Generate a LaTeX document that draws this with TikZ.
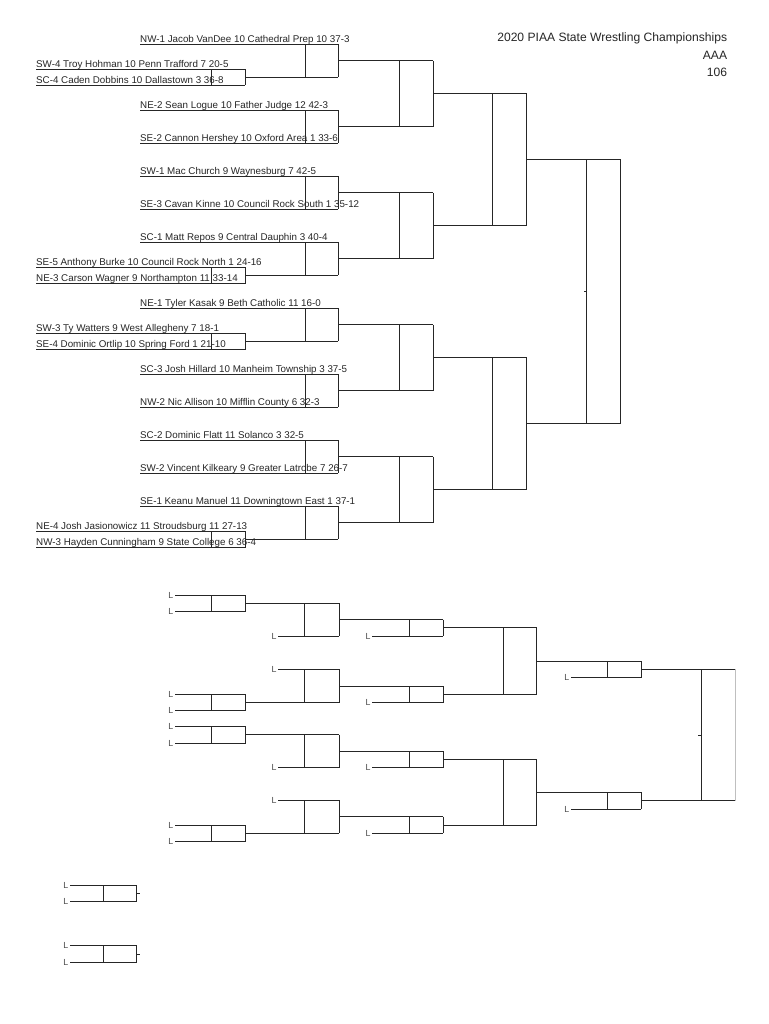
\documentclass[tikz,border=0pt]{standalone}
\usepackage{fontspec}
\setmainfont{Liberation Sans}
\newcommand\mainentry[3]{%
  \pgfmathsetmacro\myy{44.3+33*#1}%
  \node[ent] (#2) at (140,\myy-2) {#3};%
  \draw[ln] (140,\myy) -- (338,\myy);}
\newcommand\prelimentry[5]{%
  \pgfmathsetmacro\myy{44.3+33*#1}%
  \draw[ln] (245,\myy) -- (338,\myy);%
  \draw[ln] (36,\myy-8.2) -- (245,\myy-8.2) (36,\myy+8.2) -- (245,\myy+8.2)
            (211,\myy-8.2) -- (211,\myy+8.2) (245,\myy-8.2) -- (245,\myy+8.2);%
  \node[ent] (#2) at (36,\myy-10.2) {#3};%
  \node[ent] (#4) at (36,\myy+6.2) {#5};}
% consolation group, first box on top
\newcommand\cgrpA[2]{%
  \pgfmathsetmacro\cb{#1}%
  \draw[ln] (175,\cb) -- (245.7,\cb) (175,\cb+16.5) -- (245.7,\cb+16.5)
            (211,\cb) -- (211,\cb+16.5) (245.7,\cb) -- (245.7,\cb+16.5);%
  \node[lbl] (#2a) at (173.5,\cb+3) {L};%
  \node[lbl] (#2b) at (173.5,\cb+19.5) {L};%
  \draw[ln] (245.7,\cb+8.25) -- (339,\cb+8.25) (278.3,\cb+41) -- (339,\cb+41)
            (304.3,\cb+8.25) -- (304.3,\cb+41) (339,\cb+8.25) -- (339,\cb+41);%
  \node[lbl] (#2c) at (276.8,\cb+44) {L};%
  \draw[ln] (339,\cb+24.6) -- (443.3,\cb+24.6) (372.3,\cb+41) -- (443.3,\cb+41)
            (409,\cb+24.6) -- (409,\cb+41) (443.3,\cb+24.6) -- (443.3,\cb+41);%
  \node[lbl] (#2d) at (370.8,\cb+44) {L};%
  \draw[ln] (443.3,\cb+32.8) -- (536.7,\cb+32.8);}
% consolation group, first box at bottom
\newcommand\cgrpB[2]{%
  \pgfmathsetmacro\cb{#1}%
  \draw[ln] (278.3,\cb) -- (339,\cb);%
  \node[lbl] (#2c) at (276.8,\cb+3) {L};%
  \draw[ln] (175,\cb+25.1) -- (245.7,\cb+25.1) (175,\cb+41.6) -- (245.7,\cb+41.6)
            (211,\cb+25.1) -- (211,\cb+41.6) (245.7,\cb+25.1) -- (245.7,\cb+41.6);%
  \node[lbl] (#2a) at (173.5,\cb+28.1) {L};%
  \node[lbl] (#2b) at (173.5,\cb+44.6) {L};%
  \draw[ln] (245.7,\cb+33.4) -- (339,\cb+33.4)
            (304.3,\cb) -- (304.3,\cb+33.4) (339,\cb) -- (339,\cb+33.4);%
  \draw[ln] (339,\cb+16.7) -- (443.3,\cb+16.7) (372.3,\cb+33.4) -- (443.3,\cb+33.4)
            (409,\cb+16.7) -- (409,\cb+33.4) (443.3,\cb+16.7) -- (443.3,\cb+33.4);%
  \node[lbl] (#2d) at (370.8,\cb+36.4) {L};%
  \draw[ln] (443.3,\cb+25.05) -- (536.7,\cb+25.05);}
\begin{document}
\begin{tikzpicture}[x=1pt,y=-1pt,
  ln/.style={line width=0.95pt, draw=black!85},
  ent/.style={anchor=base west, inner sep=0pt, font=\fontsize{9.8}{11}\selectfont, text=black!85},
  lbl/.style={anchor=base east, inner sep=0pt, font=\fontsize{8.8}{10}\selectfont, text=black!70},
  ttl/.style={anchor=base east, inner sep=0pt, font=\fontsize{12.1}{14}\selectfont, text=black!85}]
\useasboundingbox (0,0) rectangle (768,1024);
\fill[white] (0,0) rectangle (768,1024);

% title
\node[ttl] (t1) at (727.3,41.6) {2020 PIAA State Wrestling Championships};
\node[ttl] (t2) at (727.3,59.3) {AAA};
\node[ttl] (t3) at (727.3,77) {106};

% first round entries
\mainentry{0}{e0}{NW-1 Jacob VanDee 10 Cathedral Prep 10 37-3}
\prelimentry{1}{p1a}{SW-4 Troy Hohman 10 Penn Trafford 7 20-5}{p1b}{SC-4 Caden Dobbins 10 Dallastown 3 36-8}
\mainentry{2}{e2}{NE-2 Sean Logue 10 Father Judge 12 42-3}
\mainentry{3}{e3}{SE-2 Cannon Hershey 10 Oxford Area 1 33-6}
\mainentry{4}{e4}{SW-1 Mac Church 9 Waynesburg 7 42-5}
\mainentry{5}{e5}{SE-3 Cavan Kinne 10 Council Rock South 1 35-12}
\mainentry{6}{e6}{SC-1 Matt Repos 9 Central Dauphin 3 40-4}
\prelimentry{7}{p7a}{SE-5 Anthony Burke 10 Council Rock North 1 24-16}{p7b}{NE-3 Carson Wagner 9 Northampton 11 33-14}
\mainentry{8}{e8}{NE-1 Tyler Kasak 9 Beth Catholic 11 16-0}
\prelimentry{9}{p9a}{SW-3 Ty Watters 9 West Allegheny 7 18-1}{p9b}{SE-4 Dominic Ortlip 10 Spring Ford 1 21-10}
\mainentry{10}{e10}{SC-3 Josh Hillard 10 Manheim Township 3 37-5}
\mainentry{11}{e11}{NW-2 Nic Allison 10 Mifflin County 6 32-3}
\mainentry{12}{e12}{SC-2 Dominic Flatt 11 Solanco 3 32-5}
\mainentry{13}{e13}{SW-2 Vincent Kilkeary 9 Greater Latrobe 7 26-7}
\mainentry{14}{e14}{SE-1 Keanu Manuel 11 Downingtown East 1 37-1}
\prelimentry{15}{p15a}{NE-4 Josh Jasionowicz 11 Stroudsburg 11 27-13}{p15b}{NW-3 Hayden Cunningham 9 State College 6 36-4}

% round 1 boxes
\foreach \k in {0,...,7}{
  \pgfmathsetmacro\ya{44.3+66*\k}
  \pgfmathsetmacro\yb{\ya+33}
  \draw[ln] (305,\ya) -- (305,\yb) (338,\ya) -- (338,\yb);
}
% round 2 boxes
\foreach \k in {0,...,3}{
  \pgfmathsetmacro\ya{60.8+132*\k}
  \pgfmathsetmacro\yb{\ya+66}
  \draw[ln] (338,\ya) -- (433,\ya) (338,\yb) -- (433,\yb)
            (399,\ya) -- (399,\yb) (433,\ya) -- (433,\yb);
}
% semifinal boxes
\foreach \k in {0,1}{
  \pgfmathsetmacro\ya{93.8+264*\k}
  \pgfmathsetmacro\yb{\ya+132}
  \draw[ln] (433,\ya) -- (526.7,\ya) (433,\yb) -- (526.7,\yb)
            (492.3,\ya) -- (492.3,\yb) (526.7,\ya) -- (526.7,\yb);
}
% final box
\draw[ln] (526.7,159.8) -- (620.7,159.8) (526.7,423.8) -- (620.7,423.8)
          (586.7,159.8) -- (586.7,423.8) (620.7,159.8) -- (620.7,423.8);
\draw[ln] (584,291.8) -- (586.7,291.8);

% consolation bracket
\cgrpA{595}{ca}
\cgrpB{669.3}{cb}
\cgrpA{726.7}{cc}
\cgrpB{800}{cd}
% consolation semifinals
\draw[ln] (503.3,627.8) -- (503.3,694.35) (536.7,627.8) -- (536.7,694.35);
\draw[ln] (503.3,759.5) -- (503.3,825.05) (536.7,759.5) -- (536.7,825.05);
\draw[ln] (536.7,661.1) -- (641,661.1) (571,677.7) -- (641,677.7)
          (607.7,661.1) -- (607.7,677.7) (641,661.1) -- (641,677.7);
\node[lbl] (ce1) at (569.5,680.7) {L};
\draw[ln] (536.7,792.3) -- (641,792.3) (571,809) -- (641,809)
          (607.7,792.3) -- (607.7,809) (641,792.3) -- (641,809);
\node[lbl] (ce2) at (569.5,812) {L};
% consolation final
\draw[ln] (641,669.4) -- (735,669.4) (641,800.65) -- (735,800.65)
          (701,669.4) -- (701,800.65);
\draw[line width=0.95pt, draw=black!25] (735,669.4) -- (735,800.65);
\draw[ln] (698.3,735) -- (701,735);

% place bouts
\foreach \yt/\nm in {885/pa, 945.7/pb}{
  \pgfmathsetmacro\ybb{\yt+16.6}
  \pgfmathsetmacro\ymm{\yt+8.3}
  \draw[ln] (70,\yt) -- (136.7,\yt) (70,\ybb) -- (136.7,\ybb)
            (103.3,\yt) -- (103.3,\ybb) (136.7,\yt) -- (136.7,\ybb);
  \draw[ln] (136.7,\ymm) -- (140,\ymm);
  \node[lbl] (\nm1) at (68.5,\yt+3) {L};
  \node[lbl] (\nm2) at (68.5,\ybb+3) {L};
}
\end{tikzpicture}
\end{document}
